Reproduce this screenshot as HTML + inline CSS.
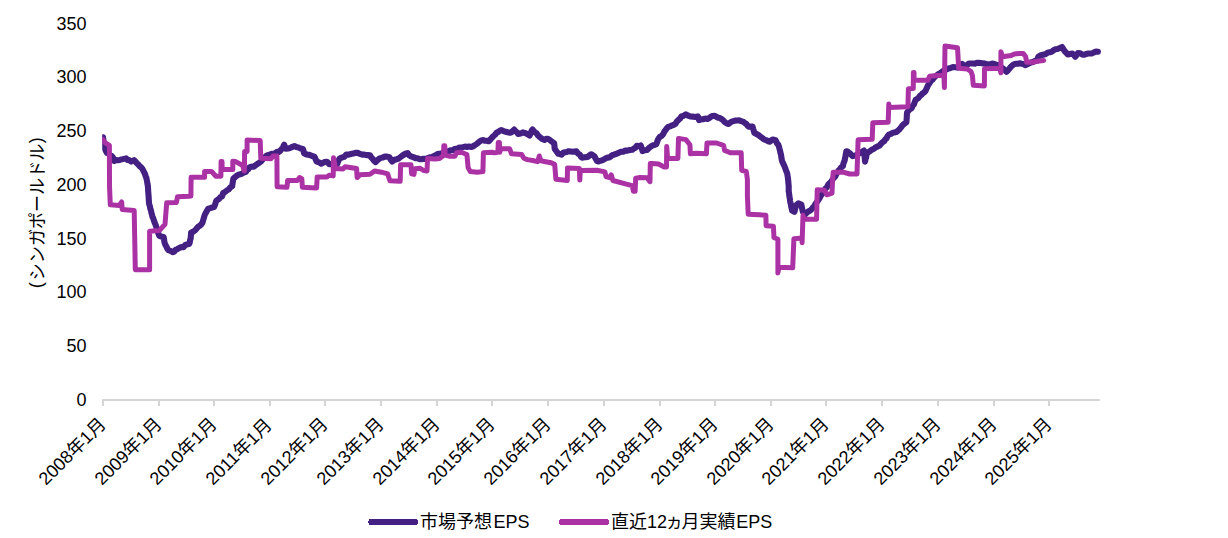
<!DOCTYPE html><html><head><meta charset="utf-8"><title>chart</title><style>html,body{margin:0;padding:0;background:#fff}body{width:1228px;height:538px;overflow:hidden}svg{display:block}text{font-family:"Liberation Sans","Noto Sans CJK JP",sans-serif;font-size:18px;fill:#000}</style></head><body>
<svg width="1228" height="538" viewBox="0 0 1228 538">
<rect width="1228" height="538" fill="#fff"/>
<path d="M102,399H1100v2H102zM102,401h2v5h-2zM158,401h2v5h-2zM213,401h2v5h-2zM269,401h2v5h-2zM324,401h2v5h-2zM380,401h2v5h-2zM436,401h2v5h-2zM491,401h2v5h-2zM547,401h2v5h-2zM603,401h2v5h-2zM659,401h2v5h-2zM714,401h2v5h-2zM770,401h2v5h-2zM825,401h2v5h-2zM881,401h2v5h-2zM937,401h2v5h-2zM993,401h2v5h-2zM1048,401h2v5h-2z" fill="#d5d5d5"/>
<g transform="translate(76.59,405.70)"><text x="0.00" y="0">0</text></g>
<g transform="translate(66.58,351.98)"><text x="0.00" y="0">50</text></g>
<g transform="translate(56.57,298.26)"><text x="0.00" y="0">100</text></g>
<g transform="translate(56.57,244.54)"><text x="0.00" y="0">150</text></g>
<g transform="translate(56.57,190.82)"><text x="0.00" y="0">200</text></g>
<g transform="translate(56.57,137.10)"><text x="0.00" y="0">250</text></g>
<g transform="translate(56.57,83.38)"><text x="0.00" y="0">300</text></g>
<g transform="translate(56.57,29.66)"><text x="0.00" y="0">350</text></g>
<g transform="translate(44.2,288.2) rotate(-90)"><text x="0" y="-2.3">(</text><text x="7.98" y="0" textLength="136.5" lengthAdjust="spacingAndGlyphs">シンガポールドル</text><text x="144.9" y="-2.3">)</text></g>
<g transform="translate(106.90,425.20) rotate(-45) translate(-86.05,0)"><text x="0.00" y="0">2008年1月</text></g>
<g transform="translate(162.90,425.20) rotate(-45) translate(-86.05,0)"><text x="0.00" y="0">2009年1月</text></g>
<g transform="translate(217.90,425.20) rotate(-45) translate(-86.05,0)"><text x="0.00" y="0">2010年1月</text></g>
<g transform="translate(273.90,425.20) rotate(-45) translate(-86.05,0)"><text x="0.00" y="0">2011年1月</text></g>
<g transform="translate(328.90,425.20) rotate(-45) translate(-86.05,0)"><text x="0.00" y="0">2012年1月</text></g>
<g transform="translate(384.90,425.20) rotate(-45) translate(-86.05,0)"><text x="0.00" y="0">2013年1月</text></g>
<g transform="translate(440.90,425.20) rotate(-45) translate(-86.05,0)"><text x="0.00" y="0">2014年1月</text></g>
<g transform="translate(495.90,425.20) rotate(-45) translate(-86.05,0)"><text x="0.00" y="0">2015年1月</text></g>
<g transform="translate(551.90,425.20) rotate(-45) translate(-86.05,0)"><text x="0.00" y="0">2016年1月</text></g>
<g transform="translate(607.90,425.20) rotate(-45) translate(-86.05,0)"><text x="0.00" y="0">2017年1月</text></g>
<g transform="translate(663.90,425.20) rotate(-45) translate(-86.05,0)"><text x="0.00" y="0">2018年1月</text></g>
<g transform="translate(718.90,425.20) rotate(-45) translate(-86.05,0)"><text x="0.00" y="0">2019年1月</text></g>
<g transform="translate(774.90,425.20) rotate(-45) translate(-86.05,0)"><text x="0.00" y="0">2020年1月</text></g>
<g transform="translate(829.90,425.20) rotate(-45) translate(-86.05,0)"><text x="0.00" y="0">2021年1月</text></g>
<g transform="translate(885.90,425.20) rotate(-45) translate(-86.05,0)"><text x="0.00" y="0">2022年1月</text></g>
<g transform="translate(941.90,425.20) rotate(-45) translate(-86.05,0)"><text x="0.00" y="0">2023年1月</text></g>
<g transform="translate(997.90,425.20) rotate(-45) translate(-86.05,0)"><text x="0.00" y="0">2024年1月</text></g>
<g transform="translate(1052.90,425.20) rotate(-45) translate(-86.05,0)"><text x="0.00" y="0">2025年1月</text></g>
<clipPath id="pc"><rect x="102.2" y="0" width="1126" height="538"/></clipPath><g clip-path="url(#pc)">
<path d="M103.0,137.2 L103.2,138.8 L103.5,140.5 L103.7,143.0 L104.0,144.1 L104.2,146.5 L104.8,148.3 L105.5,150.3 L107.0,152.9 L108.5,153.5 L110.0,155.3 L111.5,155.9 L112.9,157.4 L113.6,159.1 L114.3,161.0 L116.2,160.1 L118.0,160.2 L119.8,159.9 L121.7,159.4 L123.9,158.9 L126.1,158.4 L127.5,159.9 L129.0,160.1 L131.2,161.6 L134.1,160.2 L135.4,161.4 L136.8,163.2 L138.2,164.4 L139.5,166.0 L141.2,167.3 L142.8,169.5 L143.9,171.9 L145.0,174.0 L145.6,176.0 L146.2,177.3 L146.7,179.5 L147.1,181.5 L147.5,184.1 L147.9,186.0 L148.0,187.5 L148.1,189.5 L148.2,191.1 L148.3,192.6 L148.5,194.9 L148.6,196.5 L148.7,197.7 L148.8,199.8 L148.9,201.4 L149.0,203.3 L149.5,205.1 L149.9,206.3 L150.3,208.8 L150.7,209.5 L151.2,211.6 L151.6,213.7 L152.0,214.7 L152.4,216.8 L153.1,217.9 L153.8,220.3 L154.4,222.0 L155.0,223.4 L155.7,225.2 L156.3,226.8 L156.9,229.2 L157.5,231.0 L158.3,233.4 L159.2,235.6 L161.4,236.6 L163.6,236.9 L164.0,238.9 L164.3,241.3 L164.7,243.1 L165.6,245.2 L166.5,246.8 L167.4,248.8 L168.3,250.1 L170.5,250.8 L172.7,252.2 L174.2,251.6 L175.6,249.8 L177.1,249.4 L178.6,248.3 L180.3,247.5 L182.0,247.0 L183.7,247.1 L185.2,245.0 L187.2,244.3 L189.2,244.0 L189.7,242.6 L190.2,239.7 L190.7,238.2 L190.8,236.3 L191.0,234.7 L191.1,232.5 L193.3,231.6 L195.5,230.0 L196.9,228.1 L198.3,226.6 L199.8,225.8 L201.2,224.5 L202.6,222.3 L203.2,220.1 L203.8,218.2 L204.3,216.2 L204.9,214.5 L206.0,212.7 L207.2,210.4 L208.3,208.6 L210.2,208.1 L212.1,207.5 L214.0,207.1 L214.8,205.5 L215.5,203.1 L216.3,200.8 L217.7,199.8 L219.1,198.8 L220.6,196.9 L222.0,196.5 L222.6,194.9 L223.1,193.0 L225.0,192.1 L226.9,190.4 L228.8,189.4 L230.5,187.2 L232.2,186.1 L232.5,183.7 L232.8,181.9 L233.1,180.2 L233.4,178.6 L235.1,177.1 L236.8,175.7 L239.1,174.4 L241.4,174.0 L243.7,172.6 L246.0,171.8 L247.1,169.8 L248.2,169.3 L249.4,167.4 L251.7,166.6 L253.9,166.7 L255.5,165.4 L257.0,164.3 L258.5,163.2 L260.0,162.2 L261.5,160.9 L263.1,158.8 L264.6,157.6 L266.1,156.0 L267.6,155.2 L269.6,154.6 L271.6,153.9 L273.6,154.1 L275.6,152.9 L277.1,151.8 L278.6,152.1 L280.2,150.8 L281.6,149.0 L283.0,148.0 L283.6,145.7 L284.2,144.6 L285.0,147.1 L285.9,148.7 L288.1,148.5 L290.4,147.8 L292.4,146.9 L294.4,146.1 L296.4,147.1 L298.4,147.4 L300.7,148.6 L303.0,149.0 L303.5,150.8 L304.1,153.2 L306.0,154.2 L307.9,154.7 L309.8,154.9 L312.1,156.0 L314.4,156.6 L315.1,157.9 L315.9,160.0 L316.6,161.6 L318.9,162.2 L321.2,163.7 L322.9,162.8 L324.6,162.1 L326.9,161.7 L329.2,164.1 L331.2,164.1 L333.2,164.7 L335.2,164.8 L337.2,164.1 L337.9,162.0 L338.7,160.2 L339.4,158.7 L341.7,157.6 L344.0,156.9 L345.1,155.9 L346.3,154.5 L348.6,154.6 L350.9,154.0 L353.1,153.6 L355.4,152.9 L357.7,152.8 L360.0,153.9 L362.2,154.6 L364.5,154.6 L366.4,155.1 L368.2,155.0 L370.0,155.2 L371.1,157.3 L372.3,158.4 L374.0,160.6 L375.7,162.1 L377.2,160.4 L378.7,159.1 L380.3,158.1 L382.5,157.6 L384.8,156.6 L387.1,156.6 L389.4,157.2 L390.8,159.8 L392.2,161.5 L394.5,159.8 L396.8,159.2 L398.8,158.5 L400.8,156.8 L402.5,155.5 L404.2,154.5 L405.9,153.5 L407.6,153.1 L409.3,155.3 L411.0,156.3 L413.3,157.1 L415.6,158.1 L417.5,158.2 L419.4,159.1 L421.3,159.2 L423.6,158.7 L425.9,158.9 L427.9,158.1 L429.9,157.3 L431.9,157.0 L433.9,156.1 L436.1,155.0 L438.4,153.7 L440.7,153.8 L443.0,152.7 L444.9,152.2 L446.8,151.7 L448.7,151.3 L450.6,150.3 L452.5,150.3 L454.4,149.1 L456.1,148.8 L457.8,148.5 L459.5,147.5 L461.2,147.7 L463.1,147.1 L465.0,146.6 L466.9,147.0 L469.2,146.5 L471.5,147.0 L473.0,146.4 L474.5,145.4 L476.0,144.5 L477.7,143.1 L479.4,141.7 L481.2,140.4 L483.2,140.1 L485.1,140.8 L486.9,140.8 L488.6,141.3 L489.7,140.4 L490.9,138.8 L492.0,137.6 L493.1,136.4 L494.8,135.0 L496.6,132.8 L498.1,132.0 L499.6,130.9 L501.1,130.0 L503.4,131.1 L505.7,131.7 L507.8,132.3 L510.0,132.8 L511.4,132.4 L512.8,131.0 L514.2,129.6 L515.6,131.4 L516.9,132.1 L518.2,134.0 L520.5,133.6 L522.8,132.4 L525.6,133.2 L527.6,134.1 L529.6,135.6 L530.4,133.6 L531.1,132.2 L531.8,130.4 L532.5,129.5 L533.8,131.1 L535.1,132.5 L536.5,133.2 L537.6,135.0 L538.8,136.2 L539.9,137.2 L542.2,139.0 L544.5,139.9 L546.2,138.7 L547.9,138.7 L549.6,139.8 L551.3,141.3 L554.2,143.3 L554.4,145.4 L554.5,146.5 L554.7,148.7 L555.9,150.5 L557.0,152.0 L558.1,153.7 L559.9,154.0 L561.6,154.6 L563.3,152.7 L565.0,152.2 L566.9,151.9 L568.8,151.2 L570.7,151.5 L572.6,151.8 L574.5,151.6 L576.4,151.4 L578.1,153.6 L579.8,154.6 L581.0,156.7 L582.1,157.7 L584.4,157.3 L586.6,157.1 L588.2,156.7 L589.7,155.1 L591.2,154.3 L592.9,155.2 L594.6,156.4 L595.4,158.3 L596.1,159.3 L596.9,161.1 L598.6,161.5 L600.3,160.8 L602.6,160.1 L604.9,158.8 L607.2,157.6 L609.5,157.4 L611.0,156.3 L612.5,154.9 L614.0,154.7 L616.3,153.8 L618.6,152.9 L620.9,151.7 L623.1,151.8 L625.4,150.5 L627.7,150.6 L630.0,150.1 L632.2,149.8 L633.8,148.6 L635.3,147.8 L636.8,145.8 L640.0,146.3 L640.8,145.6 L641.4,147.2 L642.0,148.9 L642.5,151.1 L644.8,150.2 L647.1,150.0 L648.4,148.6 L649.8,147.3 L651.1,146.3 L652.8,145.3 L654.5,145.0 L656.2,144.3 L657.0,142.4 L657.7,140.1 L658.5,138.6 L660.0,136.7 L661.5,136.0 L663.1,134.2 L664.2,131.9 L665.3,130.4 L666.5,128.7 L668.2,126.9 L669.9,126.4 L672.2,125.3 L674.5,124.5 L675.6,123.6 L676.7,121.7 L677.9,120.5 L679.0,119.4 L680.2,118.4 L681.3,116.5 L683.6,115.8 L685.9,114.3 L688.1,115.6 L690.4,116.5 L692.7,116.6 L695.0,116.9 L697.8,116.4 L698.4,117.7 L699.0,120.1 L701.0,119.4 L703.0,119.2 L705.2,118.6 L707.5,119.0 L709.2,118.1 L711.0,116.6 L712.7,116.0 L714.4,115.8 L716.1,116.6 L717.8,117.7 L719.5,117.8 L721.2,118.8 L722.9,120.0 L724.6,121.9 L726.6,123.4 L728.6,124.0 L730.6,122.2 L732.6,121.3 L734.9,120.6 L737.2,120.5 L739.1,120.3 L741.0,121.1 L742.9,121.6 L744.6,122.8 L746.3,123.8 L747.4,125.4 L748.6,126.6 L750.6,126.5 L752.6,126.6 L753.1,128.8 L753.7,130.4 L754.3,132.8 L756.5,134.0 L758.8,135.2 L760.4,136.6 L761.9,137.7 L763.4,138.9 L765.0,139.7 L766.7,140.4 L768.4,141.4 L770.0,141.6 L771.4,140.2 L772.8,139.5 L775.6,140.2 L776.5,142.2 L777.3,143.7 L778.2,144.5 L779.0,146.8 L779.5,148.8 L779.9,150.2 L780.3,152.1 L780.7,153.6 L781.0,154.8 L781.3,156.9 L781.6,158.6 L781.9,160.5 L782.6,162.3 L783.3,163.9 L784.0,165.1 L784.7,166.8 L785.5,168.9 L786.2,171.0 L787.0,172.8 L787.3,174.0 L787.6,175.9 L787.9,177.9 L788.1,179.5 L788.3,182.2 L788.5,184.0 L788.7,186.1 L788.7,188.0 L788.7,189.8 L788.7,191.4 L789.0,192.7 L789.3,195.6 L789.6,197.4 L789.9,199.0 L790.1,200.9 L790.4,202.9 L790.9,204.3 L791.3,207.1 L791.7,208.5 L792.1,210.6 L794.4,211.8 L794.8,210.5 L795.3,208.1 L795.7,207.1 L796.1,205.3 L798.4,203.4 L801.3,204.5 L801.7,206.3 L802.1,208.4 L802.5,210.4 L803.0,212.0 L805.2,214.3 L806.8,212.6 L808.3,211.5 L809.8,210.7 L811.3,209.6 L812.9,207.5 L814.4,206.3 L815.3,204.1 L816.3,202.7 L817.2,201.4 L818.2,200.3 L819.1,198.9 L820.1,197.2 L821.2,195.1 L822.4,193.7 L823.5,191.9 L824.6,190.2 L825.8,188.1 L826.9,187.3 L828.1,184.8 L829.2,183.6 L830.9,182.1 L832.6,179.5 L833.6,178.2 L834.6,177.2 L835.5,175.9 L836.5,173.8 L837.5,172.1 L838.5,170.6 L839.5,169.7 L841.2,167.4 L842.9,166.1 L843.4,163.6 L844.0,162.1 L844.6,160.6 L845.1,157.9 L845.4,156.7 L845.7,154.7 L846.0,153.4 L846.3,151.3 L848.0,151.8 L849.7,153.1 L851.1,154.6 L852.6,156.1 L855.4,155.5 L857.3,154.6 L859.2,153.4 L861.1,152.3 L864.0,150.5 L864.2,152.3 L864.3,154.0 L864.5,156.5 L864.7,157.3 L864.9,160.0 L865.1,161.6 L865.5,159.0 L866.0,158.0 L866.4,155.8 L866.8,153.7 L868.4,152.1 L870.0,151.2 L871.4,150.0 L872.8,149.3 L874.5,148.3 L876.2,147.1 L877.9,146.4 L879.6,145.5 L881.2,143.5 L882.7,142.1 L884.2,141.2 L885.3,139.2 L886.5,138.4 L887.6,136.0 L888.8,134.7 L890.7,134.0 L892.6,132.9 L894.5,132.4 L896.0,132.1 L897.5,131.1 L899.0,129.8 L900.2,128.3 L901.3,127.1 L902.5,125.3 L904.4,123.7 L906.4,122.3 L906.6,119.8 L906.7,118.6 L906.8,116.4 L906.9,114.8 L907.0,112.6 L908.5,110.8 L910.1,109.0 L911.6,108.2 L912.7,105.8 L913.9,104.5 L914.7,102.1 L915.6,99.9 L917.0,99.0 L918.4,98.0 L919.9,95.9 L921.3,95.0 L922.7,93.3 L924.2,92.4 L925.6,90.9 L926.5,88.7 L927.3,86.9 L928.2,85.1 L929.0,83.8 L930.2,82.2 L931.3,80.4 L932.5,79.8 L933.6,78.1 L935.0,76.8 L936.4,75.5 L937.9,74.5 L939.3,73.7 L940.8,72.8 L942.3,71.5 L943.8,70.7 L945.4,69.8 L946.9,69.2 L948.4,68.4 L950.7,67.9 L953.0,67.0 L955.2,67.2 L957.5,67.6 L959.0,66.3 L960.6,65.1 L962.1,64.0 L964.4,65.8 L966.6,65.3 L968.9,63.5 L970.9,63.5 L972.9,63.5 L974.9,63.6 L976.9,62.9 L978.9,62.9 L980.9,63.0 L982.9,63.4 L984.9,63.6 L986.7,64.3 L988.5,64.3 L990.4,64.4 L992.2,63.5 L994.0,64.0 L996.3,64.7 L998.6,65.0 L1000.1,66.1 L1001.6,67.5 L1003.1,68.5 L1004.8,70.1 L1006.5,71.8 L1007.7,70.7 L1008.8,69.4 L1010.0,67.8 L1011.5,66.2 L1013.0,64.9 L1014.5,64.0 L1016.4,63.8 L1018.2,63.7 L1020.0,63.3 L1021.7,63.7 L1023.3,64.0 L1025.6,65.2 L1027.5,64.1 L1029.4,63.3 L1031.3,62.2 L1033.1,62.1 L1035.0,60.8 L1036.8,60.7 L1037.6,58.8 L1038.4,56.6 L1040.2,55.5 L1042.0,55.0 L1043.8,54.6 L1045.6,54.2 L1047.3,52.9 L1049.0,52.2 L1050.7,52.2 L1052.2,51.3 L1053.7,50.2 L1055.2,49.3 L1057.5,49.0 L1059.8,48.0 L1062.1,47.0 L1063.2,48.8 L1064.4,50.8 L1066.1,52.6 L1067.8,54.4 L1070.1,53.9 L1072.3,53.5 L1073.8,54.8 L1075.2,56.7 L1076.6,55.0 L1078.0,53.0 L1080.3,53.3 L1082.6,54.8 L1084.5,54.6 L1086.4,53.9 L1088.3,53.5 L1090.2,53.5 L1092.1,53.4 L1094.0,52.4 L1096.0,51.6 L1097.9,51.8" fill="none" stroke="#432082" stroke-width="6.1" stroke-linejoin="round" stroke-linecap="round"/>
<path d="M103.0,139.6 L105.0,142.6 L109.4,145.4 L109.5,186.0 L110.3,204.8 L119.4,205.4 L121.7,202.0 L122.2,209.4 L134.2,210.5 L135.3,269.8 L149.6,269.8 L149.6,231.2 L159.3,230.6 L165.0,224.3 L166.7,202.7 L176.4,202.5 L177.5,196.8 L188.9,196.3 L190.9,196.0 L191.1,177.3 L204.6,177.3 L204.6,171.4 L211.5,171.4 L215.9,176.2 L220.9,176.2 L221.1,161.4 L222.0,161.4 L222.2,169.6 L232.8,169.6 L232.8,161.3 L235.7,161.6 L242.3,165.2 L244.4,171.0 L244.6,151.6 L247.1,151.4 L247.1,140.0 L260.2,140.6 L260.8,158.2 L271.0,158.8 L273.3,155.9 L276.9,155.9 L277.1,186.7 L287.0,187.3 L287.6,180.5 L297.3,180.5 L299.6,177.6 L301.8,178.7 L302.4,187.3 L316.6,187.9 L317.2,177.0 L326.9,177.0 L329.2,175.3 L333.2,175.9 L333.5,157.7 L335.5,168.5 L342.9,169.1 L345.1,166.8 L356.6,168.5 L357.1,177.6 L360.0,174.8 L370.0,174.2 L374.6,171.0 L381.4,172.2 L387.7,173.9 L389.9,180.7 L400.2,181.3 L400.6,164.8 L411.0,164.8 L411.6,173.9 L413.9,174.4 L415.0,168.7 L420.2,168.2 L423.6,170.5 L427.0,171.0 L427.6,158.5 L435.0,159.1 L439.6,158.5 L443.5,155.6 L443.8,145.8 L444.8,145.8 L445.2,155.1 L449.8,156.2 L454.9,156.2 L456.6,152.8 L461.2,152.2 L466.9,154.5 L468.1,167.6 L470.3,171.6 L477.2,172.2 L482.9,171.6 L483.4,152.8 L492.0,152.2 L494.3,152.8 L497.9,152.2 L498.3,142.4 L499.4,142.4 L499.8,152.2 L500.5,148.8 L509.7,148.8 L511.4,153.7 L521.7,154.6 L523.9,158.2 L527.4,159.6 L534.2,160.8 L537.6,161.7 L539.3,156.0 L541.0,160.8 L545.6,161.7 L551.3,162.8 L554.7,164.5 L555.9,179.3 L567.3,180.5 L567.5,167.9 L579.4,168.5 L579.8,180.1 L580.3,170.6 L596.9,170.2 L604.9,171.9 L606.0,176.5 L609.5,177.6 L611.2,174.8 L612.9,180.5 L625.4,183.9 L632.2,185.6 L633.4,191.3 L635.1,191.3 L635.7,178.2 L640.0,177.6 L647.1,177.8 L650.0,181.7 L650.3,163.5 L652.2,163.5 L658.5,164.1 L664.2,166.9 L666.5,166.9 L666.7,146.4 L667.6,158.4 L677.9,158.4 L678.5,138.4 L685.9,139.6 L689.9,144.7 L690.4,153.8 L696.1,153.2 L706.4,153.8 L707.0,143.0 L716.6,143.0 L723.5,145.3 L724.6,150.4 L730.3,152.7 L741.2,152.7 L741.7,170.3 L746.3,171.5 L747.4,179.5 L747.4,196.0 L748.2,214.2 L759.6,214.8 L765.9,215.3 L766.1,225.8 L773.4,226.2 L773.9,235.9 L773.9,237.5 L777.9,239.2 L777.9,272.9 L779.0,267.2 L792.7,267.8 L793.9,238.7 L801.8,238.1 L802.1,242.7 L803.0,215.3 L804.1,219.3 L816.6,219.3 L817.2,189.7 L824.6,190.3 L826.9,194.8 L832.0,193.1 L832.6,180.0 L833.2,172.3 L844.0,172.3 L849.7,174.0 L857.0,174.0 L858.1,139.8 L872.2,139.3 L872.8,122.8 L888.2,122.2 L888.8,104.0 L889.3,107.4 L907.9,106.8 L908.1,100.0 L908.4,88.7 L913.3,88.4 L913.4,72.4 L914.0,72.4 L914.1,80.2 L927.9,80.2 L929.6,76.2 L937.0,75.6 L943.9,75.6 L944.4,87.6 L945.0,46.0 L957.5,47.7 L958.7,68.2 L964.4,68.8 L967.3,69.0 L971.0,71.5 L972.4,75.6 L973.3,85.3 L984.4,85.9 L984.5,68.8 L999.7,68.2 L1000.9,72.8 L1000.9,51.7 L1002.6,56.8 L1011.1,55.6 L1014.5,53.9 L1020.0,53.4 L1023.3,53.6 L1025.6,56.5 L1026.7,62.2 L1032.5,62.2 L1039.3,61.0 L1043.6,60.5" fill="none" stroke="#ab32a5" stroke-width="5" stroke-linejoin="round" stroke-linecap="round"/>
</g>
<path d="M369,519h48v1h1v4h-1v1h-48v-2h-1v-2h1z" fill="#432082"/>
<g transform="translate(420.1,528.3)"><text x="0" y="0">市場予想</text><text x="73.30" y="0">EPS</text></g>
<path d="M560,519h48v1h1v4h-1v1h-48v-1h-1v-4h1z" fill="#ab32a5"/>
<g transform="translate(611.1,528.3)"><text x="0" y="0">直近12</text><text x="54.2" y="0">ヵ</text><text x="70.5" y="0">月実績</text><text x="125.21" y="0">EPS</text></g>
</svg></body></html>
